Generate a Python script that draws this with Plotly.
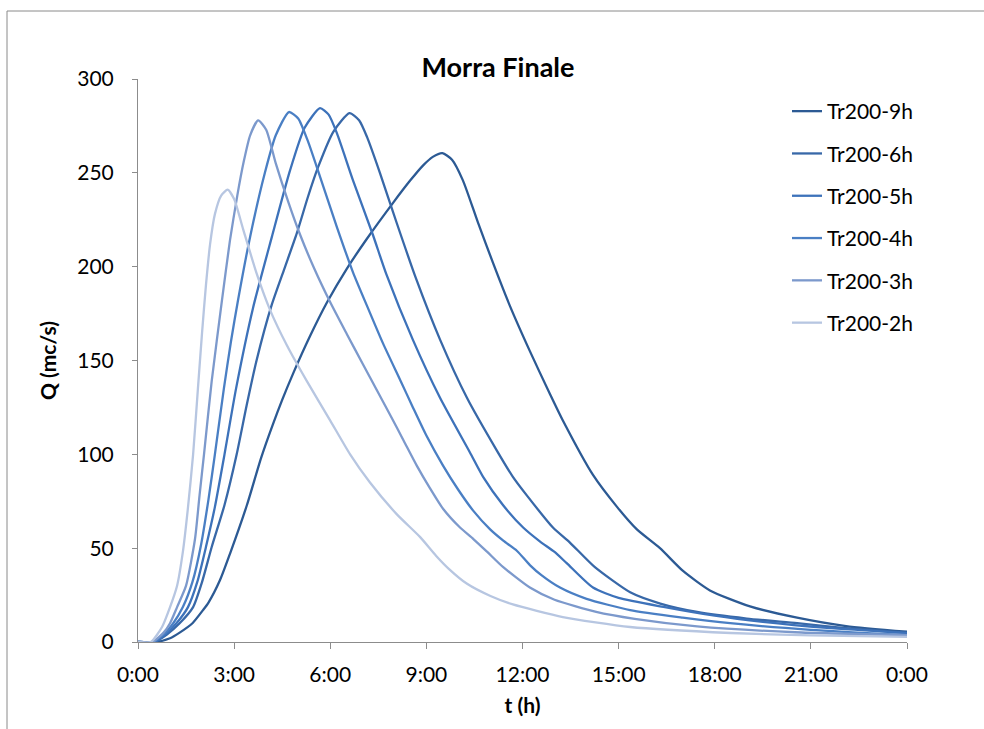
import plotly.graph_objects as go

# Hydrographs for the "Morra Finale" section, return period 200 years,
# one series per storm duration. Time in hours from 0:00, discharge in m3/s.
series_names = ["Tr200-9h", "Tr200-6h", "Tr200-5h", "Tr200-4h", "Tr200-3h", "Tr200-2h"]

t_9h = [0, 0.55, 1.0, 1.3, 1.7, 2.03, 2.2, 2.56, 2.87, 3.4, 3.84, 4.21, 4.5, 4.84, 5.37,
        5.9, 6.52, 7.15, 7.96, 8.5, 8.9, 9.2, 9.5, 9.8, 10.14, 10.6, 11.08, 11.61, 12.23,
        12.86, 13.26, 14.2, 14.95, 15.57, 16.29, 17.0, 17.85, 19.1, 20.57, 22.1, 24.0]
q_9h = [0, 0, 2, 5, 10, 17, 21, 33, 47, 73, 98, 116, 129, 143, 163,
        181, 199, 215, 234, 246, 254, 258.5, 260.5, 257, 246, 224, 202, 179, 155,
        132, 118, 89, 72, 60, 50, 38, 27.5, 19, 13, 8.5, 5.5]

t_6h = [0, 0.5, 0.9, 1.3, 1.72, 2.0, 2.3, 2.7, 3.08, 3.39, 3.7, 4.18, 4.57, 4.96, 5.3,
        5.62, 6.1, 6.6, 6.9, 7.15, 7.55, 8.08, 8.67, 9.43, 10.27, 11.2, 11.7, 12.14,
        12.95, 13.48, 14.25, 15.36, 16.3, 17.45, 19.0, 20.57, 22.0, 24.0]
q_6h = [0, 0, 4, 10, 18.6, 32, 50.6, 73, 100, 126, 150, 180, 199, 218, 237,
        253, 272, 281.8, 278, 269, 250, 223, 194, 161, 130, 102, 88, 78,
        61, 53, 40, 26.5, 20.5, 16, 12.5, 10, 7.5, 4.8]

t_5h = [0, 0.5, 0.85, 1.2, 1.56, 1.85, 2.12, 2.4, 2.7, 3.06, 3.59, 4.18, 4.74, 5.2, 5.68,
        5.95, 6.21, 6.71, 7.33, 7.75, 8.58, 9.43, 10.36, 10.77, 11.39, 12.02, 12.55,
        13.0, 13.38, 14.2, 15.0, 16.4, 18.0, 19.5, 21.5, 24.0]
q_5h = [0, 0, 4, 10, 18.6, 32, 50.6, 72, 100, 135, 178, 216, 251, 274, 284.5,
        281, 271, 246, 217, 196, 161, 130, 101, 88, 73, 61, 53.5,
        48, 42, 29, 23.5, 18.7, 14, 10.7, 7.5, 4.8]

t_4h = [0, 0.45, 0.8, 1.1, 1.4, 1.7, 1.97, 2.2, 2.4, 2.68, 2.9, 3.12, 3.5, 3.96, 4.3, 4.71,
        5.0, 5.3, 5.68, 6.21, 6.71, 7.2, 7.65, 8.2, 8.58, 9.0, 9.52, 10.0, 10.46,
        10.99, 11.4, 11.83, 12.23, 12.6, 13.17, 14.0, 15.36, 17.0, 18.48, 21.0, 24.0]
q_4h = [0, 0, 4, 10, 18.6, 32, 52, 76, 100, 135, 160, 182, 216, 250, 270, 282.4,
        279, 267, 248, 221, 197, 177, 159, 139, 125, 110, 94, 81, 70,
        60, 54, 48.5, 41, 35.5, 29, 23, 17, 13, 10, 6.5, 3.7]

t_3h = [0, 0.45, 0.8, 1.0, 1.22, 1.5, 1.78, 1.92, 2.06, 2.3, 2.62, 2.87, 3.1, 3.3, 3.5,
        3.75, 4.0, 4.3, 4.7, 5.06, 5.5, 6.0, 6.52, 7.02, 7.46, 7.87, 8.3, 8.7, 9.11,
        9.52, 10.05, 10.46, 10.9, 11.39, 12.23, 13.0, 14.3, 15.5, 17.45, 20.5, 24.0]
q_3h = [0, 0, 5, 10, 18.6, 30, 55, 78, 100, 139, 182, 214, 238, 256, 270,
        278, 273, 255, 234, 217, 199, 181, 164, 148, 134, 121, 107, 94, 82,
        71, 61, 55, 48, 40, 29, 22.5, 16, 12.3, 8.3, 5.2, 3.7]

t_2h = [0, 0.4, 0.75, 1.0, 1.22, 1.4, 1.55, 1.72, 1.87, 2.0, 2.12, 2.25, 2.4, 2.6, 2.8,
        3.0, 3.28, 3.71, 4.12, 4.65, 5.27, 6.0, 6.62, 7.24, 8.08, 8.8, 9.3, 9.7,
        10.27, 11.0, 11.7, 13.26, 15.36, 18.5, 21.0, 24.0]
q_2h = [0, 0, 8, 18.6, 30, 48, 70, 100, 135, 165, 190, 212, 228, 238, 241,
        236, 220, 196, 177, 158, 139, 118, 100, 85, 68, 56, 46, 39,
        31, 24.5, 20, 13.3, 8, 4.8, 3.5, 2.7]

series_t = [t_9h, t_6h, t_5h, t_4h, t_3h, t_2h]
series_q = [q_9h, q_6h, q_5h, q_4h, q_3h, q_2h]
series_colors = ["#2c5a94", "#3868a8", "#3d72ba", "#4a7fc4", "#7c99cc", "#b7c6e1"]

x_tick_vals = [0, 3, 6, 9, 12, 15, 18, 21, 24]
x_tick_text = ["0:00", "3:00", "6:00", "9:00", "12:00", "15:00", "18:00", "21:00", "0:00"]
y_tick_vals = [0, 50, 100, 150, 200, 250, 300]

FONT = "Lato, 'Open Sans', sans-serif"
AXIS_GREY = "#8c8c8c"

fig = go.Figure()
for name, t, q, c in zip(series_names, series_t, series_q, series_colors):
    fig.add_trace(go.Scatter(
        x=t, y=q, name=name, mode="lines", legendgroup=name,
        line=dict(color=c, width=2.3, shape="spline", smoothing=0.6),
    ))

fig.update_layout(
    width=984, height=729,
    margin=dict(l=138, r=77, t=79, b=87),
    paper_bgcolor="white", plot_bgcolor="white",
    font=dict(family=FONT, color="#000000", size=21),
    title=dict(text="<b>Morra Finale</b>", x=(498 - 138) / 769, xref="paper",
               xanchor="center", y=1 - 68 / 729, yanchor="middle",
               font=dict(size=27, family=FONT, color="#000000")),
    showlegend=True,
    legend=dict(x=(787 - 138) / 769, xanchor="left", y=(642 - 91) / 563, yanchor="top",
                bgcolor="rgba(0,0,0,0)", font=dict(size=21, family=FONT),
                tracegroupgap=12, itemwidth=30),
    xaxis=dict(range=[0, 24], tickvals=x_tick_vals, ticktext=x_tick_text,
               showgrid=False, zeroline=False, showline=True, linecolor=AXIS_GREY,
               linewidth=1, ticks="outside", ticklen=6, tickcolor=AXIS_GREY,
               ticklabelstandoff=8, tickfont=dict(size=21, family=FONT),
               title=dict(text="<b>t (h)</b>", font=dict(size=21, family=FONT), standoff=13)),
    yaxis=dict(range=[0, 300], tickvals=y_tick_vals,
               showgrid=False, zeroline=False, showline=True, linecolor=AXIS_GREY,
               linewidth=1, ticks="outside", ticklen=5, tickcolor=AXIS_GREY,
               ticklabelstandoff=14, tickfont=dict(size=21, family=FONT),
               title=dict(text="<b>Q (mc/s)</b>", font=dict(size=21, family=FONT), standoff=14)),
)

# Outer chart-area frame (extends past the right and bottom page edges)
fig.add_shape(type="rect", xref="paper", yref="paper",
              x0=(7 - 138) / 769, x1=(995 - 138) / 769,
              y0=(642 - 740) / 563, y1=(642 - 11) / 563,
              line=dict(color="#8a8a8a", width=1), fillcolor="rgba(0,0,0,0)", layer="below")

fig.write_html("out.html")
